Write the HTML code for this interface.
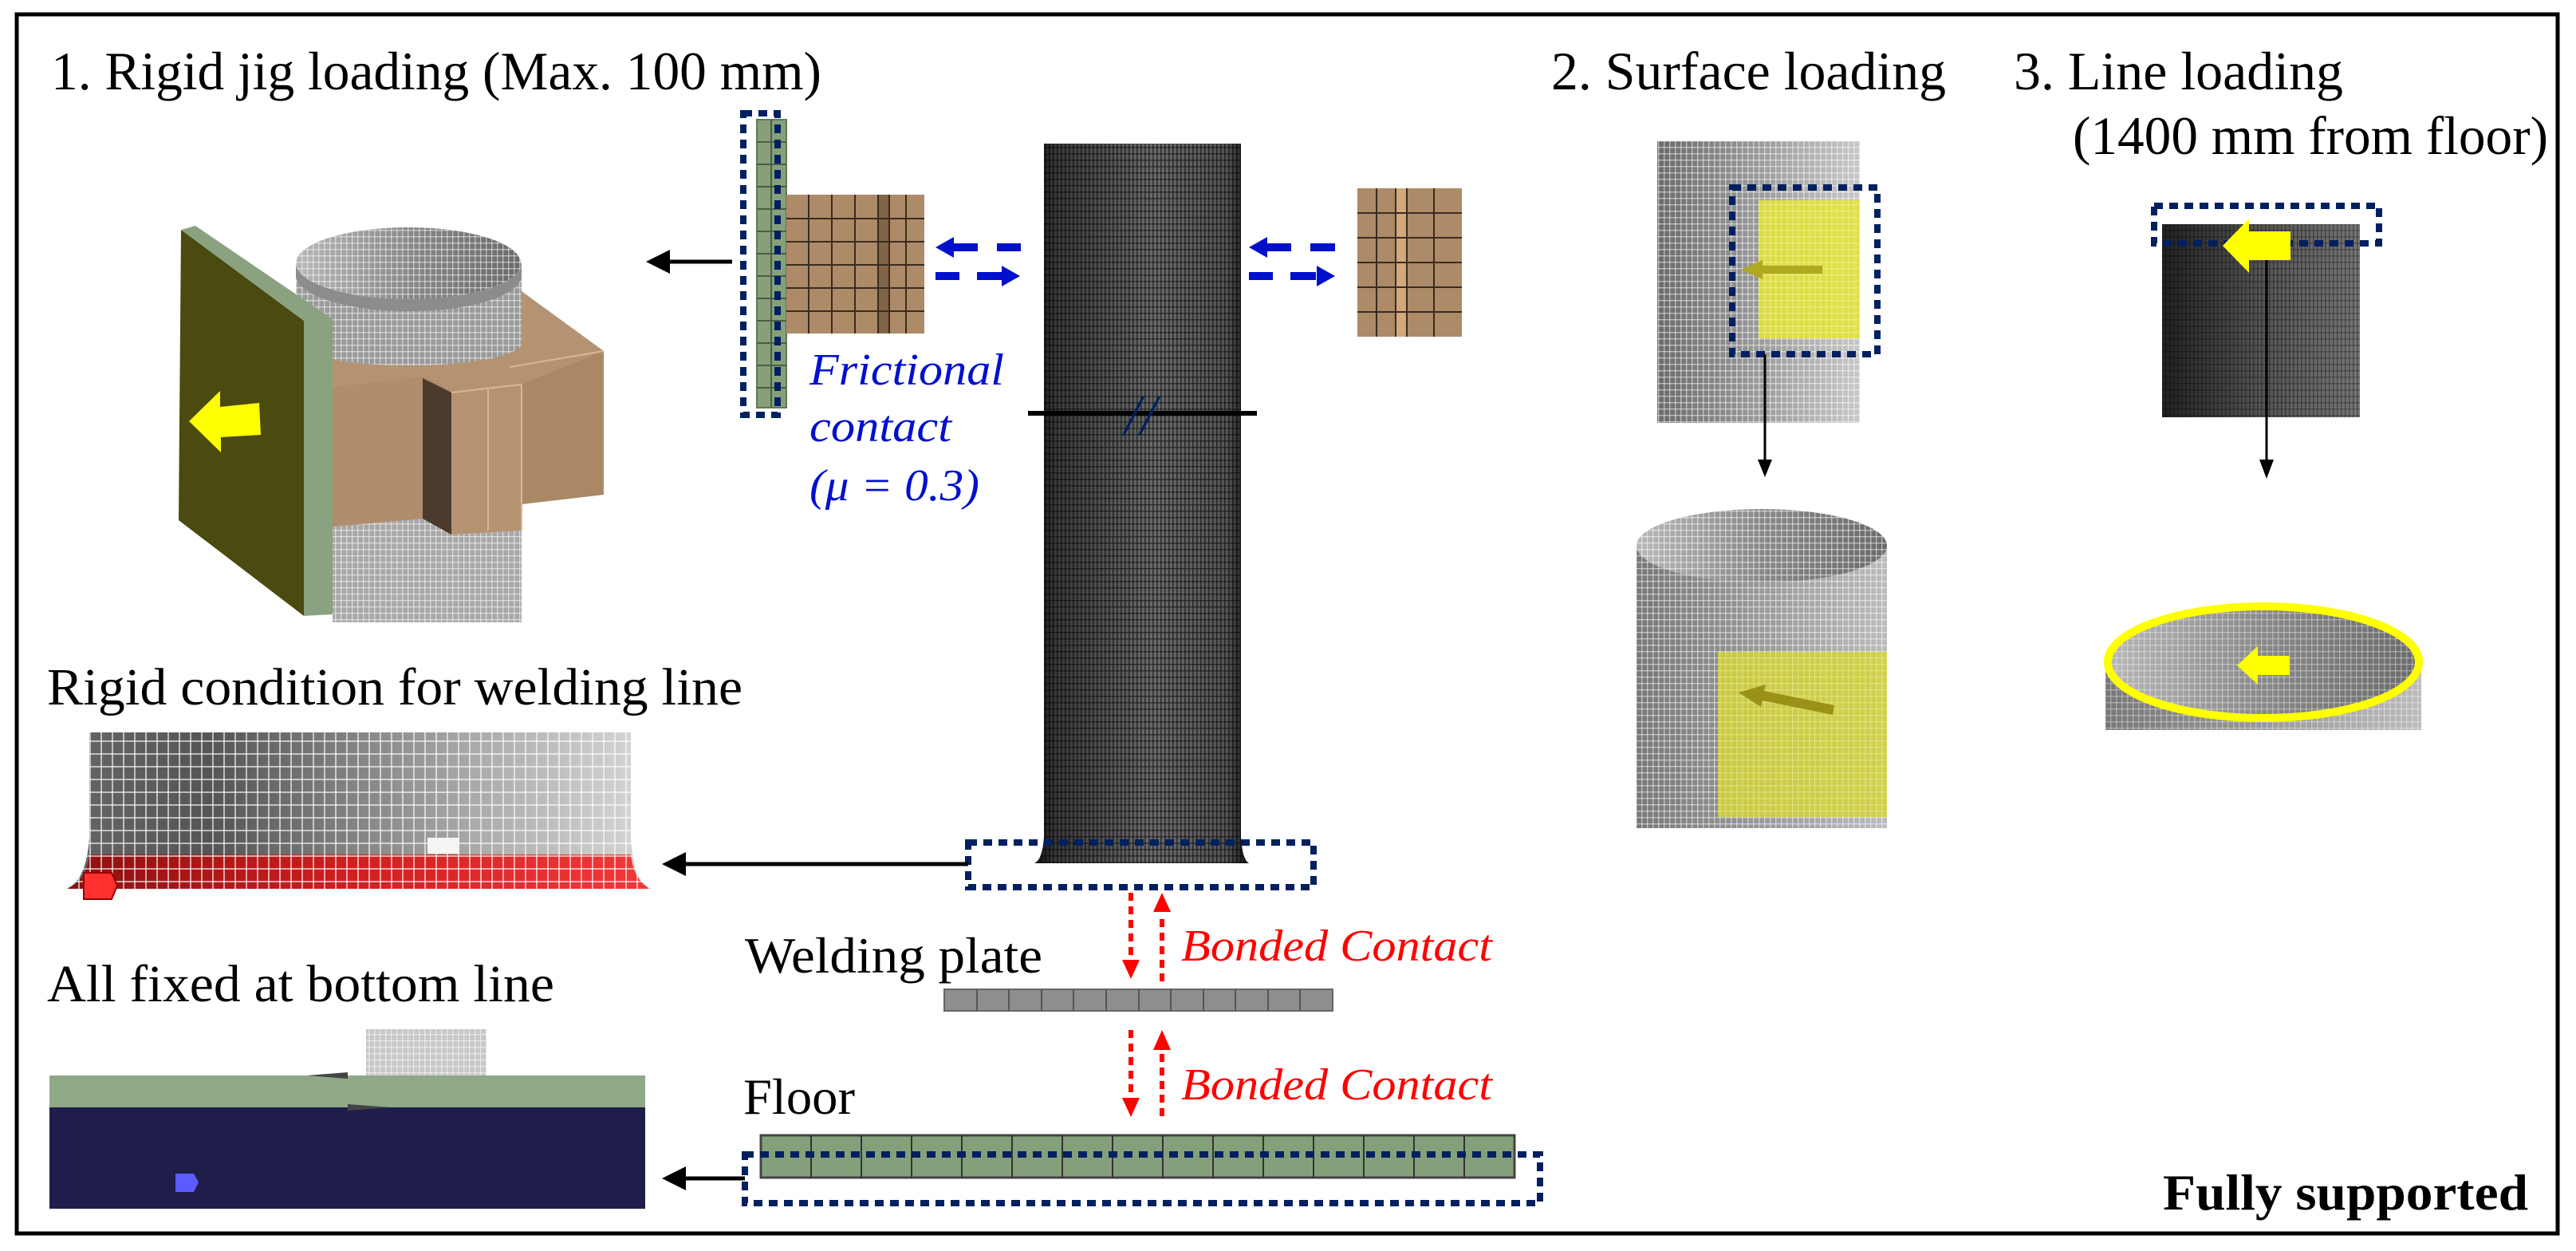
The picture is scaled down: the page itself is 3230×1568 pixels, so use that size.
<!DOCTYPE html>
<html><head><meta charset="utf-8"><style>
html,body{margin:0;padding:0;background:#fff;}
svg{display:block;}
svg text{font-family:"Liberation Serif","Times New Roman",Times,"DejaVu Serif",serif !important;}
</style></head><body>
<svg width="3230" height="1568" viewBox="0 0 3230 1568" xmlns="http://www.w3.org/2000/svg" style="font-family:'Liberation Serif','Times New Roman',Times,'DejaVu Serif',serif">
<defs>
  <pattern id="meshDark" width="5" height="8" patternUnits="userSpaceOnUse">
    <rect x="0" y="0" width="1.6" height="8" fill="#000" opacity="0.55"/>
    <rect x="0" y="0" width="5" height="1.6" fill="#000" opacity="0.45"/>
  </pattern>
  <pattern id="meshLight" width="7" height="8" patternUnits="userSpaceOnUse">
    <rect x="0" y="0" width="1.4" height="8" fill="#fff" opacity="0.5"/>
    <rect x="0" y="0" width="7" height="1.4" fill="#fff" opacity="0.5"/>
  </pattern>
  <pattern id="meshWeld" width="14" height="16" patternUnits="userSpaceOnUse">
    <rect x="0" y="0" width="2" height="16" fill="#fff" opacity="0.6"/>
    <rect x="0" y="0" width="14" height="2" fill="#fff" opacity="0.6"/>
  </pattern>
  <linearGradient id="tubeMain" x1="0" x2="1" y1="0" y2="0">
    <stop offset="0" stop-color="#111"/><stop offset="0.1" stop-color="#3a3a3a"/>
    <stop offset="0.55" stop-color="#6a6a6a"/><stop offset="0.9" stop-color="#555"/><stop offset="1" stop-color="#111"/>
  </linearGradient>
  <linearGradient id="tubeSurf" x1="0" x2="1"><stop offset="0" stop-color="#6a6a6a"/><stop offset="0.5" stop-color="#9a9a9a"/><stop offset="1" stop-color="#c8c8c8"/></linearGradient>
  <linearGradient id="tubeLine" x1="0" x2="1"><stop offset="0" stop-color="#222"/><stop offset="0.5" stop-color="#555"/><stop offset="1" stop-color="#777"/></linearGradient>
  <linearGradient id="weldG" x1="0" x2="1"><stop offset="0" stop-color="#666"/><stop offset="0.25" stop-color="#555"/><stop offset="0.7" stop-color="#aaa"/><stop offset="1" stop-color="#d8d8d8"/></linearGradient>
  <linearGradient id="redG" x1="0" x2="1"><stop offset="0" stop-color="#8a1010"/><stop offset="0.5" stop-color="#d02020"/><stop offset="1" stop-color="#f03a3a"/></linearGradient>
  <linearGradient id="cylG" x1="0" x2="1"><stop offset="0" stop-color="#777"/><stop offset="0.5" stop-color="#999"/><stop offset="1" stop-color="#bbb"/></linearGradient>
  <linearGradient id="cylIn" x1="0" x2="1"><stop offset="0" stop-color="#b8b8b8"/><stop offset="0.5" stop-color="#888"/><stop offset="1" stop-color="#6a6a6a"/></linearGradient>
  <marker id="ahB" markerWidth="6" markerHeight="6" refX="5" refY="3" orient="auto" markerUnits="strokeWidth"><path d="M0,0 L6,3 L0,6 Z" fill="#000"/></marker>
</defs>

<rect x="21" y="18" width="3186" height="1528" fill="none" stroke="#000" stroke-width="5"/>

<g>
<text x="64" y="112" font-size="68" textLength="966" lengthAdjust="spacingAndGlyphs">1. Rigid jig loading (Max. 100 mm)</text>
<text x="1945" y="112" font-size="68" textLength="495" lengthAdjust="spacingAndGlyphs">2. Surface loading</text>
<text x="2525" y="112" font-size="68" textLength="413" lengthAdjust="spacingAndGlyphs">3. Line loading</text>
<text x="2599" y="193" font-size="68" textLength="596" lengthAdjust="spacingAndGlyphs">(1400 mm from floor)</text>
<text x="59" y="883" font-size="66" textLength="872" lengthAdjust="spacingAndGlyphs">Rigid condition for welding line</text>
<text x="59" y="1255" font-size="66" textLength="636" lengthAdjust="spacingAndGlyphs">All fixed at bottom line</text>
<text x="934" y="1219" font-size="64" textLength="373" lengthAdjust="spacingAndGlyphs">Welding plate</text>
<text x="932" y="1396" font-size="64" textLength="140" lengthAdjust="spacingAndGlyphs">Floor</text>
<text x="2712" y="1516" font-size="64" font-weight="bold" textLength="458" lengthAdjust="spacingAndGlyphs">Fully supported</text>
</g>

<!-- ===== Jig 3D illustration ===== -->
<rect x="417" y="620" width="237" height="160" fill="#a8a8a8"/>
<rect x="417" y="620" width="237" height="160" fill="url(#meshLight)"/>
<polygon points="371,345 654,365 757,440 757,620 654,632 654,665 566,670 530,650 417,660 417,485" fill="#b59372"/>
<polygon points="654,482 757,440 757,620 654,632" fill="#aa8866"/>
<polygon points="417,485 536,472 566,492 566,670 530,650 417,660" fill="#b08d6c"/>
<polygon points="530,474 566,492 566,670 530,650" fill="#4a3b2c"/>
<line x1="566" y1="492" x2="654" y2="482" stroke="#d7b896" stroke-width="2"/>
<line x1="612" y1="488" x2="612" y2="665" stroke="#d7b896" stroke-width="2"/>
<line x1="654" y1="482" x2="654" y2="665" stroke="#d7b896" stroke-width="2"/>
<line x1="639" y1="460" x2="757" y2="440" stroke="#d7b896" stroke-width="2"/>
<path d="M371,330 L654,330 L654,430 A141,28 0 0 1 371,430 Z" fill="#9a9a9a"/>
<path d="M371,330 L654,330 L654,430 A141,28 0 0 1 371,430 Z" fill="url(#meshLight)"/>
<ellipse cx="512" cy="330" rx="141" ry="45" fill="url(#cylIn)"/>
<ellipse cx="512" cy="330" rx="141" ry="45" fill="url(#meshLight)"/>
<path d="M371,330 A141,45 0 0 0 654,330 L654,345 A141,45 0 0 1 371,345 Z" fill="#8c8c8c"/>
<polygon points="227,288 381,402 381,772 224,652" fill="#4b4a10"/>
<polygon points="227,288 245,283 417,400 381,402" fill="#8aa27f"/>
<polygon points="381,402 417,400 417,770 381,772" fill="#8aa27f"/>
<polygon points="237,528 276,490 276,510 325,505 327,545 277,548 277,567" fill="#ffff00"/>
<line x1="918" y1="328" x2="815" y2="328" stroke="#000" stroke-width="5" marker-end="url(#ahB)"/>

<rect x="949" y="150" width="37" height="361" fill="#86a07a" stroke="#5f7a58" stroke-width="2"/>
<g stroke="#4a5e44" stroke-width="2">
<line x1="967" y1="150" x2="967" y2="511"/>
<line x1="949" y1="178" x2="986" y2="178"/><line x1="949" y1="206" x2="986" y2="206"/><line x1="949" y1="234" x2="986" y2="234"/><line x1="949" y1="262" x2="986" y2="262"/><line x1="949" y1="290" x2="986" y2="290"/><line x1="949" y1="318" x2="986" y2="318"/><line x1="949" y1="346" x2="986" y2="346"/><line x1="949" y1="374" x2="986" y2="374"/><line x1="949" y1="402" x2="986" y2="402"/><line x1="949" y1="430" x2="986" y2="430"/><line x1="949" y1="458" x2="986" y2="458"/><line x1="949" y1="486" x2="986" y2="486"/>
</g>
<rect x="986" y="244" width="173" height="174" fill="#ad8a68"/>
<rect x="1101" y="244" width="14" height="174" fill="#806447"/>
<g stroke="#3a2b1e" stroke-width="2">
<line x1="1014" y1="244" x2="1014" y2="418"/><line x1="1043" y1="244" x2="1043" y2="418"/><line x1="1072" y1="244" x2="1072" y2="418"/><line x1="1101" y1="244" x2="1101" y2="418"/><line x1="1115" y1="244" x2="1115" y2="418"/><line x1="1136" y1="244" x2="1136" y2="418"/>
<line x1="986" y1="274" x2="1159" y2="274"/><line x1="986" y1="303" x2="1159" y2="303"/><line x1="986" y1="332" x2="1159" y2="332"/><line x1="986" y1="361" x2="1159" y2="361"/><line x1="986" y1="390" x2="1159" y2="390"/>
</g>
<rect x="932" y="142" width="43" height="378" fill="none" stroke="#002060" stroke-width="8" stroke-dasharray="11 8"/>

<rect x="1702" y="236" width="131" height="186" fill="#ad8a68"/>
<rect x="1750" y="236" width="14" height="186" fill="#d3a87c"/>
<g stroke="#3a2b1e" stroke-width="2">
<line x1="1726" y1="236" x2="1726" y2="422"/><line x1="1750" y1="236" x2="1750" y2="422"/><line x1="1764" y1="236" x2="1764" y2="422"/><line x1="1798" y1="236" x2="1798" y2="422"/>
<line x1="1702" y1="267" x2="1833" y2="267"/><line x1="1702" y1="298" x2="1833" y2="298"/><line x1="1702" y1="329" x2="1833" y2="329"/><line x1="1702" y1="360" x2="1833" y2="360"/><line x1="1702" y1="391" x2="1833" y2="391"/>
</g>

<g fill="#0010cc">
<polygon points="1173,310 1196,297 1196,323"/><rect x="1196" y="305" width="30" height="10"/><rect x="1250" y="305" width="30" height="10"/>
<rect x="1173" y="341" width="30" height="10"/><rect x="1225" y="341" width="32" height="10"/><polygon points="1279,346 1256,333 1256,359"/>
<polygon points="1566,310 1589,297 1589,323"/><rect x="1589" y="305" width="30" height="10"/><rect x="1643" y="305" width="31" height="10"/>
<rect x="1566" y="341" width="30" height="10"/><rect x="1618" y="341" width="32" height="10"/><polygon points="1674,346 1651,333 1651,359"/>
</g>
<g fill="#0010cc" font-style="italic" font-size="56">
<text x="1015" y="482" textLength="244" lengthAdjust="spacingAndGlyphs">Frictional</text>
<text x="1015" y="553" textLength="178" lengthAdjust="spacingAndGlyphs">contact</text>
<text x="1015" y="627" textLength="213" lengthAdjust="spacingAndGlyphs">(μ = 0.3)</text>
</g>

<path d="M1309,180 L1556,180 L1556,1049 Q1558,1078 1566,1082 L1297,1082 Q1307,1078 1309,1049 Z" fill="url(#tubeMain)"/>
<path d="M1309,180 L1556,180 L1556,1049 Q1558,1078 1566,1082 L1297,1082 Q1307,1078 1309,1049 Z" fill="url(#meshDark)"/>
<line x1="1289" y1="518" x2="1576" y2="518" stroke="#000" stroke-width="6"/>
<text x="1410" y="545" font-size="72" font-style="italic" fill="#002060">//</text>

<rect x="1214" y="1056" width="433" height="56" fill="none" stroke="#002060" stroke-width="8" stroke-dasharray="11 8"/>
<line x1="1214" y1="1083" x2="835" y2="1083" stroke="#000" stroke-width="5" marker-end="url(#ahB)"/>

<g stroke="#ff0000" stroke-width="6" stroke-dasharray="10 7">
<line x1="1418" y1="1119" x2="1418" y2="1205"/><line x1="1457" y1="1230" x2="1457" y2="1145"/>
<line x1="1418" y1="1291" x2="1418" y2="1378"/><line x1="1457" y1="1399" x2="1457" y2="1318"/>
</g>
<g fill="#ff0000">
<polygon points="1407,1203 1429,1203 1418,1227"/><polygon points="1446,1143 1468,1143 1457,1119"/>
<polygon points="1407,1376 1429,1376 1418,1400"/><polygon points="1446,1316 1468,1316 1457,1291"/>
</g>
<g fill="#ff0000" font-style="italic" font-size="56">
<text x="1481" y="1204" textLength="390" lengthAdjust="spacingAndGlyphs">Bonded Contact</text>
<text x="1481" y="1378" textLength="390" lengthAdjust="spacingAndGlyphs">Bonded Contact</text>
</g>

<rect x="1184" y="1240" width="487" height="27" fill="#8e8e8e" stroke="#666" stroke-width="2"/>
<g stroke="#555" stroke-width="2">
<line x1="1225" y1="1240" x2="1225" y2="1267"/><line x1="1265" y1="1240" x2="1265" y2="1267"/><line x1="1306" y1="1240" x2="1306" y2="1267"/><line x1="1346" y1="1240" x2="1346" y2="1267"/><line x1="1387" y1="1240" x2="1387" y2="1267"/><line x1="1428" y1="1240" x2="1428" y2="1267"/><line x1="1468" y1="1240" x2="1468" y2="1267"/><line x1="1509" y1="1240" x2="1509" y2="1267"/><line x1="1549" y1="1240" x2="1549" y2="1267"/><line x1="1590" y1="1240" x2="1590" y2="1267"/><line x1="1630" y1="1240" x2="1630" y2="1267"/>
</g>

<rect x="954" y="1423" width="945" height="53" fill="#84a07a" stroke="#444" stroke-width="3"/>
<g stroke="#333" stroke-width="2">
<line x1="1017" y1="1423" x2="1017" y2="1476"/><line x1="1080" y1="1423" x2="1080" y2="1476"/><line x1="1143" y1="1423" x2="1143" y2="1476"/><line x1="1206" y1="1423" x2="1206" y2="1476"/><line x1="1269" y1="1423" x2="1269" y2="1476"/><line x1="1332" y1="1423" x2="1332" y2="1476"/><line x1="1395" y1="1423" x2="1395" y2="1476"/><line x1="1458" y1="1423" x2="1458" y2="1476"/><line x1="1521" y1="1423" x2="1521" y2="1476"/><line x1="1584" y1="1423" x2="1584" y2="1476"/><line x1="1647" y1="1423" x2="1647" y2="1476"/><line x1="1710" y1="1423" x2="1710" y2="1476"/><line x1="1773" y1="1423" x2="1773" y2="1476"/><line x1="1836" y1="1423" x2="1836" y2="1476"/>
</g>
<rect x="934" y="1447" width="997" height="61" fill="none" stroke="#002060" stroke-width="8" stroke-dasharray="11 8"/>
<line x1="934" y1="1477" x2="835" y2="1477" stroke="#000" stroke-width="5" marker-end="url(#ahB)"/>

<path d="M112,918 L791,918 L791,1050 Q795,1105 816,1114 L83,1114 Q108,1105 112,1050 Z" fill="url(#weldG)"/>
<path d="M112,1071 L791,1071 Q795,1105 816,1114 L83,1114 Q108,1105 112,1071 Z" fill="url(#redG)"/>
<path d="M112,918 L791,918 L791,1050 Q795,1105 816,1114 L83,1114 Q108,1105 112,1050 Z" fill="url(#meshWeld)"/>
<rect x="536" y="1050" width="40" height="20" fill="#f4f4f4"/>
<polygon points="105,1094 140,1094 147,1110 140,1127 105,1127" fill="#ff3030" stroke="#900" stroke-width="2"/>

<rect x="459" y="1290" width="151" height="58" fill="#c8c8c8"/>
<rect x="459" y="1290" width="151" height="58" fill="url(#meshLight)"/>
<rect x="62" y="1348" width="747" height="40" fill="#8fa886"/>
<rect x="62" y="1388" width="747" height="127" fill="#1f1d4a"/>
<polygon points="220,1471 243,1471 249,1482 243,1494 220,1494" fill="#5b5bff"/>
<polygon points="385,1348 436,1344 436,1352" fill="#444"/>
<polygon points="436,1384 490,1388 436,1392" fill="#444"/>

<rect x="2078" y="177" width="254" height="353" fill="url(#tubeSurf)"/>
<rect x="2078" y="177" width="254" height="353" fill="url(#meshLight)"/>
<rect x="2205" y="251" width="127" height="173" fill="#e2e23a" opacity="0.9"/>
<rect x="2205" y="251" width="127" height="173" fill="url(#meshLight)" opacity="0.5"/>
<polygon points="2183,338 2210,326 2210,333 2285,333 2285,343 2210,343 2210,350" fill="#b0a820"/>
<rect x="2172" y="235" width="182" height="209" fill="none" stroke="#002060" stroke-width="8" stroke-dasharray="11 8"/>
<line x1="2213" y1="444" x2="2213" y2="580" stroke="#000" stroke-width="3"/>
<polygon points="2204,576 2222,576 2213,598" fill="#000"/>

<path d="M2052,684 L2366,684 L2366,1038 L2052,1038 Z" fill="url(#cylG)"/>
<ellipse cx="2209" cy="684" rx="157" ry="46" fill="url(#cylIn)"/>
<rect x="2052" y="638" width="314" height="400" fill="url(#meshLight)"/>
<rect x="2154" y="817" width="212" height="207" fill="#d4d43a" opacity="0.85"/>
<rect x="2154" y="817" width="212" height="207" fill="url(#meshLight)" opacity="0.4"/>
<polygon points="2180,868 2214,858 2212,866 2300,884 2298,896 2210,878 2208,886" fill="#9a9218"/>

<rect x="2711" y="281" width="248" height="242" fill="url(#tubeLine)"/>
<rect x="2711" y="281" width="248" height="242" fill="url(#meshDark)" opacity="0.6"/>
<rect x="2701" y="258" width="282" height="47" fill="none" stroke="#002060" stroke-width="8" stroke-dasharray="11 8"/>
<polygon points="2787,308 2820,274 2820,290 2872,290 2872,326 2820,326 2820,342" fill="#ffff00"/>
<line x1="2842" y1="326" x2="2842" y2="578" stroke="#000" stroke-width="3"/>
<polygon points="2833,576 2851,576 2842,600" fill="#000"/>

<path d="M2640,830 L3036,830 L3036,915 L2640,915 Z" fill="url(#cylG)"/>
<ellipse cx="2838" cy="830" rx="198" ry="71" fill="url(#cylIn)"/>
<rect x="2640" y="760" width="396" height="155" fill="url(#meshLight)" opacity="0.7"/>
<ellipse cx="2838" cy="830" rx="195" ry="70" fill="none" stroke="#ffff00" stroke-width="10"/>
<polygon points="2805,834 2831,810 2831,822 2871,822 2871,846 2831,846 2831,858" fill="#ffff00"/>
</svg>
</body></html>
